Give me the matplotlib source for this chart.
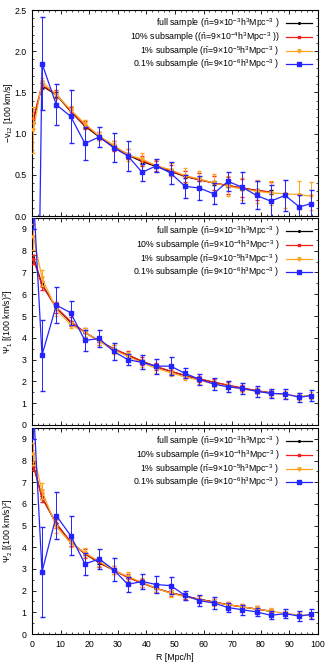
import numpy as np
import matplotlib
matplotlib.use("Agg")
import matplotlib.pyplot as plt
from matplotlib.ticker import MultipleLocator
from matplotlib.lines import Line2D

# ---------------- data ----------------
R_long = [0.5, 3.5, 8.5, 13.5, 18.5, 23.5, 28.5, 33.5, 38.5, 43.5, 48.5,
          53.5, 58.5, 63.5, 68.5, 73.5, 78.5, 83.5, 88.5, 93.5, 97.5]
R_short = R_long[:18]

# -v12 [100 km/s]
v12_full = [1.16, 1.58, 1.47, 1.27, 1.09, 0.96, 0.84, 0.74, 0.66, 0.60, 0.54,
            0.48, 0.44, 0.40, 0.37, 0.34, 0.31, 0.29]
v12_full_err = [0.03, 0.03, 0.03, 0.03, 0.02, 0.02, 0.02, 0.02, 0.02, 0.02, 0.02,
                0.02, 0.02, 0.02, 0.02, 0.02, 0.02, 0.02]
v12_10 = [1.19, 1.59, 1.48, 1.27, 1.10, 0.97, 0.85, 0.75, 0.67, 0.61, 0.55,
          0.48, 0.44, 0.40, 0.37, 0.34, 0.31, 0.29]
v12_10_err = [0.06, 0.05, 0.05, 0.05, 0.05, 0.05, 0.06, 0.06, 0.06, 0.06, 0.07,
              0.07, 0.08, 0.09, 0.10, 0.11, 0.11, 0.12]
v12_1 = [1.04, 1.63, 1.47, 1.29, 1.12, 0.97, 0.86, 0.74, 0.69, 0.61, 0.56,
         0.49, 0.45, 0.40, 0.36, 0.33, 0.30, 0.28, 0.27, 0.26, 0.24]
v12_1_err = [0.28, 0.05, 0.05, 0.05, 0.04, 0.05, 0.05, 0.07, 0.07, 0.07, 0.08,
             0.09, 0.10, 0.11, 0.12, 0.13, 0.14, 0.15, 0.17, 0.17, 0.17]
v12_01 = [-5.7, 1.85, 1.35, 1.21, 0.88, 0.96, 0.83, 0.73, 0.53, 0.61, 0.52,
          0.36, 0.34, 0.27, 0.42, 0.35, 0.25, 0.18, 0.25, 0.11, 0.15]
v12_01_err = [0.8, 0.56, 0.25, 0.32, 0.20, 0.12, 0.18, 0.18, 0.10, 0.08, 0.13,
              0.14, 0.14, 0.13, 0.12, 0.19, 0.17, 0.20, 0.19, 0.15, 0.17]

# Psi1 [(100 km/s)^2]
p1_full = [7.7, 6.45, 5.38, 4.72, 4.25, 3.86, 3.50, 3.20, 2.92, 2.67, 2.46,
           2.27, 2.11, 1.96, 1.82, 1.69, 1.57, 1.47]
p1_full_err = [0.1, 0.08, 0.06, 0.05, 0.05, 0.05, 0.04, 0.04, 0.04, 0.04, 0.03,
               0.03, 0.03, 0.03, 0.03, 0.03, 0.03, 0.03]
p1_10 = [7.6, 6.40, 5.40, 4.75, 4.25, 3.85, 3.50, 3.22, 2.93, 2.68, 2.47,
         2.28, 2.12, 1.97, 1.83, 1.70, 1.58, 1.48]
p1_10_err = [0.2, 0.2, 0.25, 0.2, 0.2, 0.2, 0.18, 0.18, 0.17, 0.16, 0.15,
             0.14, 0.14, 0.13, 0.13, 0.12, 0.12, 0.11]
p1_1 = [8.64, 6.75, 5.30, 4.60, 4.25, 3.85, 3.45, 3.15, 2.85, 2.60, 2.40,
        2.20, 2.05, 1.90, 1.78, 1.65, 1.55, 1.45, 1.40, 1.32, 1.35]
p1_1_err = [0.6, 0.35, 0.3, 0.15, 0.2, 0.2, 0.2, 0.2, 0.2, 0.2, 0.15,
            0.15, 0.15, 0.15, 0.15, 0.15, 0.15, 0.15, 0.15, 0.15, 0.15]
p1_01 = [10.5, 3.20, 5.50, 5.15, 3.88, 3.97, 3.38, 3.00, 2.87, 2.70, 2.70,
         2.37, 2.10, 1.88, 1.75, 1.68, 1.55, 1.45, 1.43, 1.27, 1.35]
p1_01_err = [1.5, 1.62, 0.82, 0.55, 0.47, 0.38, 0.40, 0.25, 0.32, 0.35, 0.40,
             0.23, 0.25, 0.27, 0.25, 0.24, 0.25, 0.20, 0.24, 0.22, 0.26]

# Psi2 [(100 km/s)^2]
p2_full = [7.8, 6.3, 5.08, 4.24, 3.70, 3.28, 2.95, 2.62, 2.35, 2.10, 1.90,
           1.75, 1.60, 1.48, 1.35, 1.25, 1.15, 1.05]
p2_full_err = [0.1, 0.08, 0.06, 0.05, 0.05, 0.05, 0.04, 0.04, 0.04, 0.04, 0.03,
               0.03, 0.03, 0.03, 0.03, 0.03, 0.03, 0.03]
p2_10 = [7.75, 6.28, 5.10, 4.25, 3.70, 3.30, 2.95, 2.60, 2.35, 2.10, 1.90,
         1.75, 1.60, 1.48, 1.35, 1.25, 1.15, 1.05]
p2_10_err = [0.2, 0.2, 0.22, 0.2, 0.2, 0.2, 0.2, 0.18, 0.17, 0.16, 0.15,
             0.14, 0.14, 0.13, 0.13, 0.12, 0.12, 0.11]
p2_1 = [8.30, 6.60, 4.95, 4.20, 3.75, 3.35, 2.95, 2.65, 2.38, 2.10, 1.88,
        1.72, 1.58, 1.45, 1.35, 1.25, 1.15, 1.05, 0.95, 0.88, 0.85]
p2_1_err = [0.5, 0.38, 0.3, 0.2, 0.2, 0.2, 0.2, 0.2, 0.2, 0.18, 0.17,
            0.16, 0.15, 0.15, 0.14, 0.14, 0.13, 0.13, 0.12, 0.12, 0.12]
p2_01 = [10.5, 2.86, 5.46, 4.54, 3.23, 3.46, 2.97, 2.29, 2.42, 2.28, 2.23,
         1.78, 1.54, 1.43, 1.22, 1.12, 1.02, 0.86, 0.94, 0.82, 0.91]
p2_01_err = [1.5, 2.07, 1.10, 0.88, 0.51, 0.48, 0.52, 0.34, 0.34, 0.38, 0.38,
             0.20, 0.24, 0.26, 0.21, 0.23, 0.20, 0.19, 0.19, 0.22, 0.24]

labels_top = [r'full sample ($\bar{\rm n}$=9$\times$10$^{-3}$h$^3$Mpc$^{-3}$ )',
              r'10% subsample (($\bar{\rm n}$=9$\times$10$^{-4}$h$^3$Mpc$^{-3}$ ))',
              r'1% subsample ($\bar{\rm n}$=9$\times$10$^{-5}$h$^3$Mpc$^{-3}$ )',
              r'0.1% subsample ($\bar{\rm n}$=9$\times$10$^{-6}$h$^3$Mpc$^{-3}$ )']
labels = [r'full sample ($\bar{\rm n}$=9$\times$10$^{-3}$h$^3$Mpc$^{-3}$ )',
          r'10% subsample ($\bar{\rm n}$=9$\times$10$^{-4}$h$^3$Mpc$^{-3}$ )',
          r'1% subsample ($\bar{\rm n}$=9$\times$10$^{-5}$h$^3$Mpc$^{-3}$ )',
          r'0.1% subsample ($\bar{\rm n}$=9$\times$10$^{-6}$h$^3$Mpc$^{-3}$ )']
# --------------------------------------

plt.rcParams['font.family'] = 'Liberation Sans'
plt.rcParams['mathtext.fontset'] = 'custom'
plt.rcParams['mathtext.rm'] = 'Liberation Sans'
plt.rcParams['mathtext.it'] = 'Liberation Sans:italic'
plt.rcParams['mathtext.default'] = 'regular'

# style per sample: color, marker, size
sty = [('black', 'o', 1.2), ('#f21d1d', 's', 2.0), ('#ffa520', 'v', 2.4), ('#2424ff', 's', 3.3)]

fig = plt.figure(figsize=(3.34, 6.68), dpi=100)
left, width = 32 / 334, 286 / 334
boxes = [(1 - 216 / 668, 206 / 668), (1 - 425 / 668, 207 / 668), (1 - 634 / 668, 206 / 668)]

panels = [
    (v12_full, v12_full_err, v12_10, v12_10_err, v12_1, v12_1_err, v12_01, v12_01_err,
     r'$-$v$_{12}$ [100 km/s]', (0, 2.5), 0.5, 0.1, labels_top),
    (p1_full, p1_full_err, p1_10, p1_10_err, p1_1, p1_1_err, p1_01, p1_01_err,
     r'$\Psi_1$ [(100 km/s)$^2$]', (0, 9.5), 1, 0.5, labels),
    (p2_full, p2_full_err, p2_10, p2_10_err, p2_1, p2_1_err, p2_01, p2_01_err,
     r'$\Psi_2$ [(100 km/s)$^2$]', (0, 9.5), 1, 0.5, labels),
]

for i, (pf, pfe, p10, p10e, p1, p1e, p01, p01e, ylab, ylim, maj, mnr, labs) in enumerate(panels):
    ax = fig.add_axes([left, boxes[i][0], width, boxes[i][1]])
    series = [(R_short, pf, pfe), (R_short, p10, p10e), (R_long, p1, p1e), (R_long, p01, p01e)]
    for k, (xx, yy, ee) in enumerate(series):
        c, m, ms = sty[k]
        ax.errorbar(xx, yy, yerr=ee, color=c, marker=m, ms=ms, lw=0.9,
                    elinewidth=0.7, capsize=1.6 if k < 3 else 1.8, zorder=3 + k)
    ax.set_xlim(0, 100)
    ax.set_ylim(*ylim)
    ax.xaxis.set_major_locator(MultipleLocator(10))
    ax.xaxis.set_minor_locator(MultipleLocator(2))
    ax.yaxis.set_major_locator(MultipleLocator(maj))
    ax.yaxis.set_minor_locator(MultipleLocator(mnr))
    ax.tick_params(which='both', direction='in', top=True, right=True, labelsize=6.3, pad=4)
    ax.tick_params(which='major', length=3, width=0.6)
    ax.tick_params(which='minor', length=1.6, width=0.5)
    for s in ax.spines.values():
        s.set_linewidth(0.8)
    ax.set_ylabel(ylab, fontsize=6.3)
    ax.yaxis.set_label_coords(-0.058, 0.5)
    if i < 2:
        ax.tick_params(labelbottom=False)
    else:
        ax.set_xlabel('R [Mpc/h]', fontsize=6.3, labelpad=3)
    handles = [Line2D([], [], color=c, marker=m, ms=ms, lw=0.9) for c, m, ms in sty]
    ax.legend(handles, labs, loc='upper right', frameon=False, fontsize=6.3,
              markerfirst=False, handlelength=3.0, handletextpad=0.7,
              labelspacing=0.02, borderaxespad=0.4, borderpad=0.3)

fig.savefig('out.png', dpi=100)
